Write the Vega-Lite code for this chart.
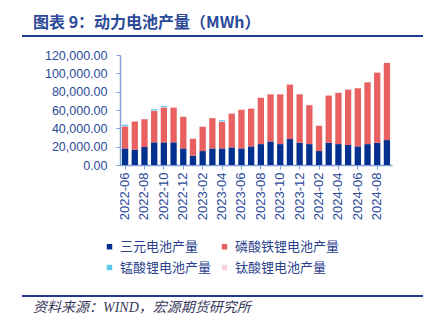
{
  "$schema": "https://vega.github.io/schema/vega-lite/v6.json",
  "padding": {"left": 22, "top": 15, "right": 5, "bottom": 5},
  "background": "white",
  "spacing": 12,
  "resolve": {"legend": {"color": "independent"}},
  "config": {"view": {"stroke": null}},
  "datasets": {
    "battery": [
      {"month": "2022-06", "三元电池产量": 18100, "磷酸铁锂电池产量": 24000, "锰酸锂电池产量": 1400, "钛酸锂电池产量": 400},
      {"month": "2022-07", "三元电池产量": 16700, "磷酸铁锂电池产量": 30800, "锰酸锂电池产量": 0, "钛酸锂电池产量": 400},
      {"month": "2022-08", "三元电池产量": 19600, "磷酸铁锂电池产量": 30400, "锰酸锂电池产量": 0, "钛酸锂电池产量": 400},
      {"month": "2022-09", "三元电池产量": 24700, "磷酸铁锂电池产量": 34400, "锰酸锂电池产量": 1400, "钛酸锂电池产量": 400},
      {"month": "2022-10", "三元电池产量": 24700, "磷酸铁锂电池产量": 38000, "锰酸锂电池产量": 1300, "钛酸锂电池产量": 400},
      {"month": "2022-11", "三元电池产量": 24700, "磷酸铁锂电池产量": 38000, "锰酸锂电池产量": 0, "钛酸锂电池产量": 500},
      {"month": "2022-12", "三元电池产量": 18100, "磷酸铁锂电池产量": 34500, "锰酸锂电池产量": 0, "钛酸锂电池产量": 400},
      {"month": "2023-01", "三元电池产量": 10200, "磷酸铁锂电池产量": 18400, "锰酸锂电池产量": 0, "钛酸锂电池产量": 400},
      {"month": "2023-02", "三元电池产量": 15200, "磷酸铁锂电池产量": 26500, "锰酸锂电池产量": 0, "钛酸锂电池产量": 400},
      {"month": "2023-03", "三元电池产量": 18100, "磷酸铁锂电池产量": 33000, "锰酸锂电池产量": 0, "钛酸锂电池产量": 500},
      {"month": "2023-04", "三元电池产量": 18100, "磷酸铁锂电池产量": 29000, "锰酸锂电池产量": 1400, "钛酸锂电池产量": 400},
      {"month": "2023-05", "三元电池产量": 19200, "磷酸铁锂电池产量": 37000, "锰酸锂电池产量": 0, "钛酸锂电池产量": 500},
      {"month": "2023-06", "三元电池产量": 18100, "磷酸铁锂电池产量": 42100, "锰酸锂电池产量": 0, "钛酸锂电池产量": 600},
      {"month": "2023-07", "三元电池产量": 20300, "磷酸铁锂电池产量": 41300, "锰酸锂电池产量": 0, "钛酸锂电池产量": 600},
      {"month": "2023-08", "三元电池产量": 22800, "磷酸铁锂电池产量": 50500, "锰酸锂电池产量": 0, "钛酸锂电池产量": 400},
      {"month": "2023-09", "三元电池产量": 25700, "磷酸铁锂电池产量": 51500, "锰酸锂电池产量": 0, "钛酸锂电池产量": 400},
      {"month": "2023-10", "三元电池产量": 22800, "磷酸铁锂电池产量": 54400, "锰酸锂电池产量": 0, "钛酸锂电池产量": 400},
      {"month": "2023-11", "三元电池产量": 28300, "磷酸铁锂电池产量": 59500, "锰酸锂电池产量": 0, "钛酸锂电池产量": 400},
      {"month": "2023-12", "三元电池产量": 24300, "磷酸铁锂电池产量": 52900, "锰酸锂电池产量": 0, "钛酸锂电池产量": 400},
      {"month": "2024-01", "三元电池产量": 22800, "磷酸铁锂电池产量": 42500, "锰酸锂电池产量": 0, "钛酸锂电池产量": 400},
      {"month": "2024-02", "三元电池产量": 15200, "磷酸铁锂电池产量": 27600, "锰酸锂电池产量": 0, "钛酸锂电池产量": 400},
      {"month": "2024-03", "三元电池产量": 24300, "磷酸铁锂电池产量": 51500, "锰酸锂电池产量": 0, "钛酸锂电池产量": 400},
      {"month": "2024-04", "三元电池产量": 22800, "磷酸铁锂电池产量": 55900, "锰酸锂电池产量": 0, "钛酸锂电池产量": 400},
      {"month": "2024-05", "三元电池产量": 21800, "磷酸铁锂电池产量": 60500, "锰酸锂电池产量": 0, "钛酸锂电池产量": 400},
      {"month": "2024-06", "三元电池产量": 20300, "磷酸铁锂电池产量": 63500, "锰酸锂电池产量": 0, "钛酸锂电池产量": 400},
      {"month": "2024-07", "三元电池产量": 22800, "磷酸铁锂电池产量": 67500, "锰酸锂电池产量": 0, "钛酸锂电池产量": 400},
      {"month": "2024-08", "三元电池产量": 24300, "磷酸铁锂电池产量": 76500, "锰酸锂电池产量": 0, "钛酸锂电池产量": 400},
      {"month": "2024-09", "三元电池产量": 27200, "磷酸铁锂电池产量": 84100, "锰酸锂电池产量": 0, "钛酸锂电池产量": 400}
    ],
    "rule": [{"a": 0, "b": 1}]
  },
  "vconcat": [
    {
      "width": 272,
      "height": 2,
      "data": {"name": "rule"},
      "mark": {"type": "rect", "color": "#1f3a8f", "clip": false},
      "encoding": {
        "x": {"field": "a", "type": "quantitative", "scale": {"range": [-98, 303], "zero": false, "nice": false}, "axis": null},
        "x2": {"field": "b"}
      },
      "title": {"text": "图表 9：动力电池产量（MWh）", "anchor": "start", "dx": 11, "fontSize": 16, "font": "Noto Sans CJK SC", "fontWeight": "bold", "color": "#2b4a99", "offset": 4}
    },
    {
      "width": 272,
      "height": 110,
      "data": {"name": "battery"},
      "transform": [{"fold": ["三元电池产量", "磷酸铁锂电池产量", "锰酸锂电池产量", "钛酸锂电池产量"], "as": ["type", "value"]}],
      "mark": {"type": "bar"},
      "encoding": {
        "x": {
          "field": "month", "type": "ordinal",
          "scale": {"paddingInner": 0.35, "paddingOuter": 0.2},
          "axis": {
            "values": ["2022-06", "2022-08", "2022-10", "2022-12", "2023-02", "2023-04", "2023-06", "2023-08", "2023-10", "2023-12", "2024-02", "2024-04", "2024-06", "2024-08"],
            "labelAngle": -90, "labelFontSize": 13, "labelFont": "Liberation Sans", "labelColor": "#2b4a99",
            "tickSize": 4, "tickColor": "#7f9fd6", "domainColor": "#7f9fd6", "domainWidth": 1.5, "labelPadding": 3,
            "title": null
          }
        },
        "y": {
          "field": "value", "type": "quantitative", "stack": "zero",
          "scale": {"domain": [0, 120000], "nice": false},
          "axis": {
            "values": [0, 20000, 40000, 60000, 80000, 100000, 120000], "format": ",.2f",
            "labelFontSize": 12.5, "labelFont": "Liberation Sans", "labelColor": "#2b4a99",
            "tickSize": 4, "tickColor": "#7f9fd6", "domainColor": "#7f9fd6", "domainWidth": 1.5, "labelPadding": 9, "grid": false,
            "title": null
          }
        },
        "order": {"field": "type", "sort": "ascending"},
        "color": {
          "field": "type", "type": "nominal",
          "scale": {"domain": ["三元电池产量", "磷酸铁锂电池产量", "锰酸锂电池产量", "钛酸锂电池产量"], "range": ["#03308f", "#e8605f", "#5cc8f0", "#f8d3d8"]},
          "legend": {
            "orient": "none", "legendX": -25, "legendY": 177, "direction": "horizontal", "columns": 2, "title": null,
            "symbolType": "square", "symbolSize": 30, "labelFontSize": 13, "labelFont": "Noto Sans CJK SC", "labelColor": "#2b3f8c",
            "columnPadding": 6, "rowPadding": 7, "labelOffset": 4, "padding": 8
          }
        }
      }
    },
    {
      "width": 272,
      "height": 2,
      "data": {"name": "rule"},
      "mark": {"type": "rect", "color": "#1f3a8f", "clip": false},
      "encoding": {
        "x": {"field": "a", "type": "quantitative", "scale": {"range": [-98, 303], "zero": false, "nice": false}, "axis": null},
        "x2": {"field": "b"}
      },
      "title": {"text": "资料来源：WIND，宏源期货研究所", "orient": "bottom", "anchor": "start", "dx": 11, "fontSize": 14, "fontStyle": "italic", "fontWeight": "normal", "font": "Liberation Serif, Noto Sans CJK SC", "color": "#3a3a5c", "offset": 4}
    }
  ]
}
